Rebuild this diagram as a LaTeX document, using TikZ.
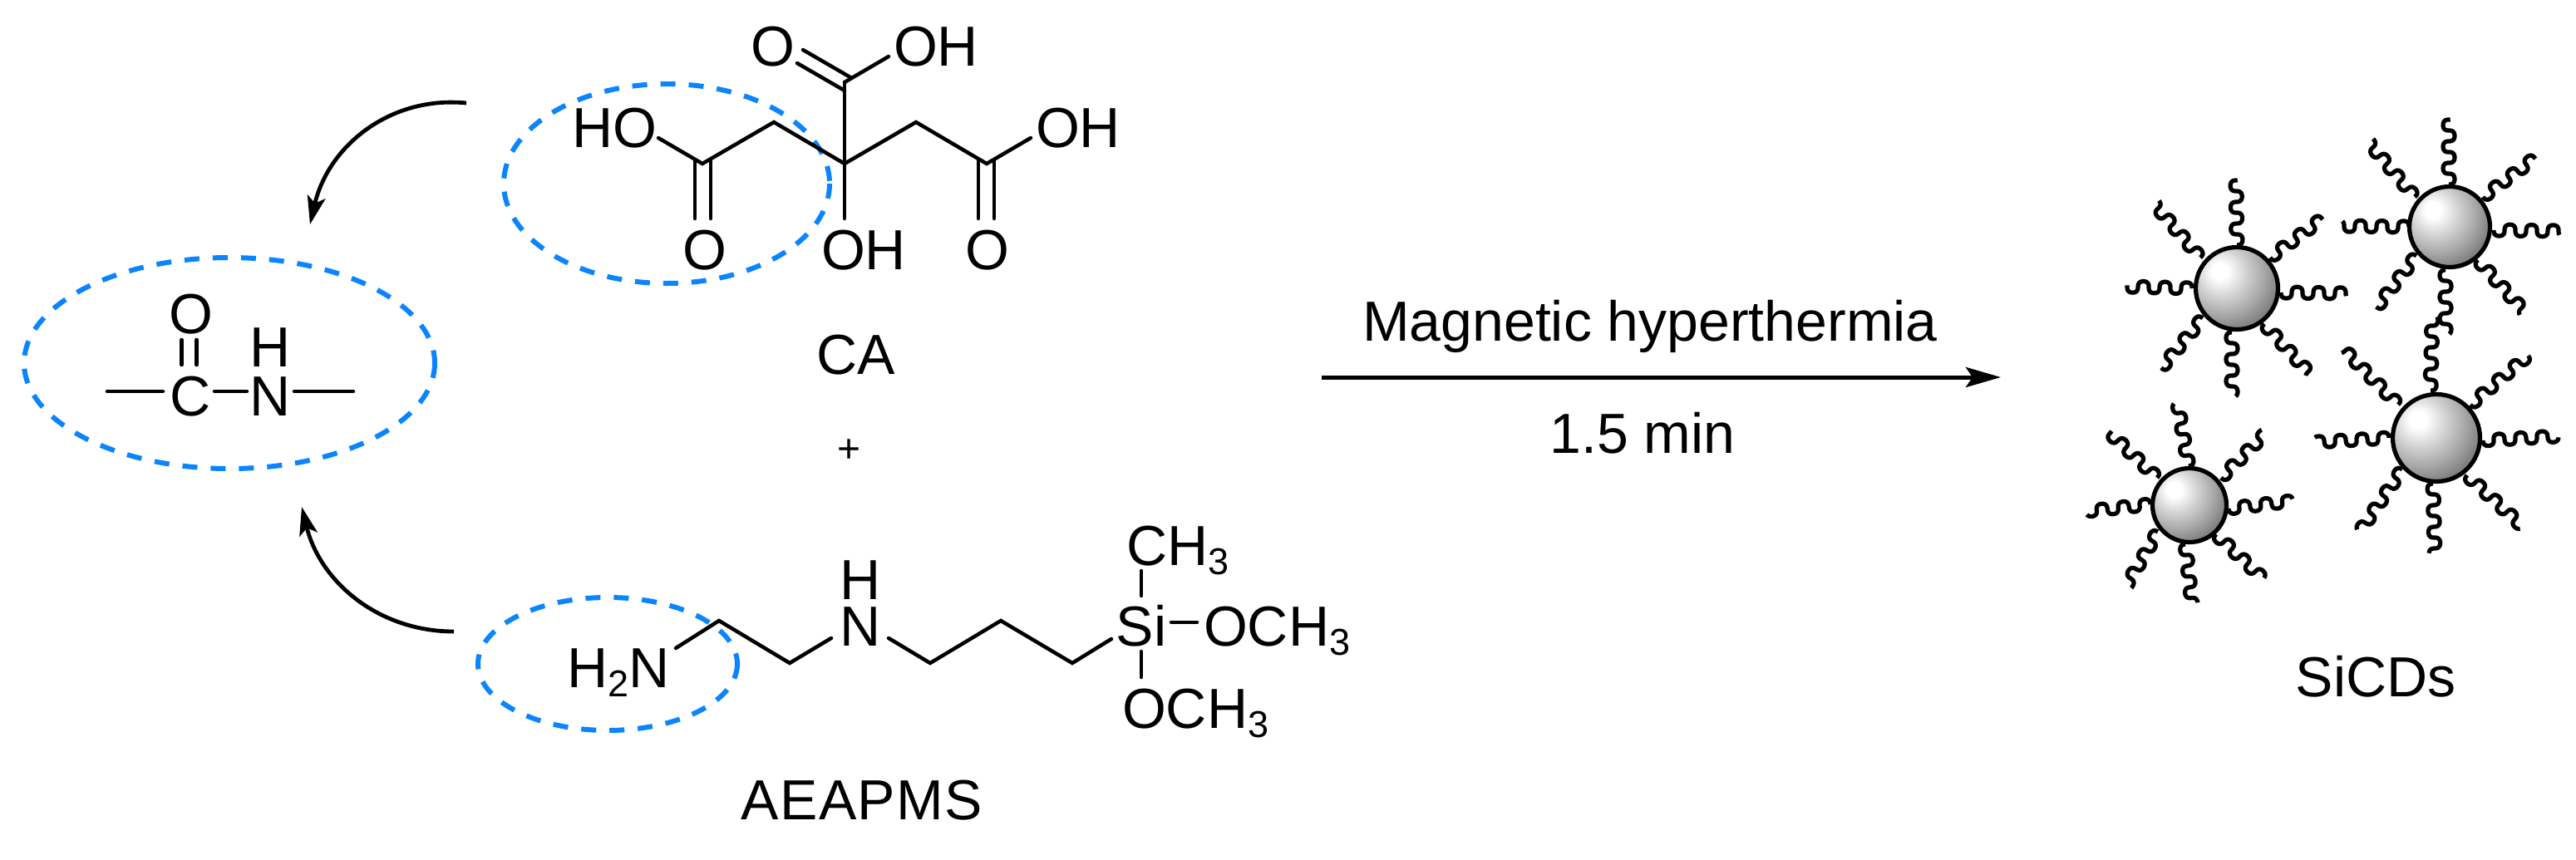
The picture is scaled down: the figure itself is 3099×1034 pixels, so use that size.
\documentclass[tikz,border=0pt]{standalone}
\usepackage{fontspec}
\setmainfont{Liberation Sans}
\usetikzlibrary{arrows.meta}
\definecolor{ringblue}{RGB}{10,132,255}
\newcommand{\subdigit}[1]{\raisebox{-5.5pt}{\fontsize{22.5}{24}\selectfont #1}}
\pgfdeclareradialshading{ballshade}{\pgfpoint{-11bp}{11bp}}{%
 color(0bp)=(white); color(5bp)=(white); color(15bp)=(black!18); color(25bp)=(black!35); color(33bp)=(black!50); color(37bp)=(black!62); color(42bp)=(black!75); color(50bp)=(black!82); color(100bp)=(black!85)}
\tikzset{
 atom/.style={inner sep=0pt,outer sep=0pt,anchor=base,font=\fontsize{34}{36}\selectfont},
 atomw/.style={atom,anchor=base west},
 bond/.style={draw=black,line width=2.25pt,line cap=round,line join=miter},
 ring/.style={draw=ringblue,line width=3pt,dash pattern=on 9pt off 8pt},
 curvearrow/.style={draw=black,line width=2.4pt,-{Stealth[length=17pt,width=11pt,inset=4pt]}},
 mainarrow/.style={draw=black,line width=2.5pt,-{Stealth[length=21pt,width=12pt,inset=4pt]}},
 ligand/.style={draw=black,line width=2.6pt,line join=round},
 ball/.style={shading=ballshade,draw=black,line width=2.6pt},
}
\begin{document}
\begin{tikzpicture}[x=0.5pt,y=-0.5pt]
\useasboundingbox (0,0) rectangle (3099,1034);
\fill[white] (0,0) rectangle (3099,1034);

% ---- rings
\draw[ring] (276,437) ellipse [x radius=247,y radius=127];
\draw[ring] (802,221) ellipse [x radius=196,y radius=120];
\draw[ring] (731,799) ellipse [x radius=156,y radius=80];

% ---- citric acid
\foreach \n/\x/\y in {cc/1016/197,cl/931/147,cr/1102/147,ccl/845/197,ccr/1187/197,
  ohl/792/166,ohr/1240/166,ob/1016/263,tc/1016/99,toh/1069/68,
  ta1/959/76,ta2/1016/109,tb1/966/60,tb2/1023/93,
  la1/836/193,la2/836/263,lb1/855/193,lb2/855/263,
  ra1/1177/193,ra2/1177/263,rb1/1196/193,rb2/1196/263}
  \coordinate (\n) at (\x,\y);
\draw[bond] (tc) -- (cc) -- (ob);
\draw[bond] (ohl) -- (ccl) -- (cl) -- (cc) -- (cr) -- (ccr) -- (ohr);
\draw[bond] (tc) -- (toh);
\draw[bond] (ta1) -- (ta2);
\draw[bond] (tb1) -- (tb2);
\draw[bond] (la1) -- (la2);
\draw[bond] (lb1) -- (lb2);
\draw[bond] (ra1) -- (ra2);
\draw[bond] (rb1) -- (rb2);
\node[atom] (o1) at (930,79) {O};
\node[atom] (oh1) at (1126,79) {OH};
\node[atom] (ho2) at (739,177) {HO};
\node[atom] (oh3) at (1297,177) {OH};
\node[atom] (o2) at (848,324) {O};
\node[atom] (oh4) at (1039,324) {OH};
\node[atom] (o3) at (1188,324) {O};
\node[atom] (ca) at (1030,450) {CA};

\node[atom,font=\fontsize{24}{26}\selectfont,anchor=center] (plus) at (1022,543) {+};

% ---- amide
\foreach \n/\x/\y in {a1/129/471,a2/196/471,a3/258/471,a4/297/471,a5/354/471,a6/425/471,
  d1/218.5/409,d2/218.5/439,d3/236.5/409,d4/236.5/439}
  \coordinate (\n) at (\x,\y);
\draw[bond] (a1) -- (a2);
\draw[bond] (a3) -- (a4);
\draw[bond] (a5) -- (a6);
\draw[bond] (d1) -- (d2);
\draw[bond] (d3) -- (d4);
\node[atom] (amO) at (230,401) {O};
\node[atom] (amC) at (229,500) {C};
\node[atom] (amH) at (325,441) {H};
\node[atom] (amN) at (325,500) {N};

% ---- curved arrows
\coordinate (ar1s) at (561,124);
\coordinate (ar1e) at (373,270);
\coordinate (ar2s) at (546,760);
\coordinate (ar2e) at (363,610);
\draw[curvearrow] (ar1s) .. controls (470,115) and (395,175) .. (ar1e);
\draw[curvearrow] (ar2s) .. controls (455,760) and (385,700) .. (ar2e);

% ---- AEAPMS
\foreach \n/\x/\y in {b1/813/780,b2/865/747,b3/950/798,b4/1000/768,b5/1069/768,b6/1119/798,
  b7/1204/747,b8/1290/798,b9/1337/769,s1/1373/687,s2/1373/717,s3/1373/784,s4/1373/815,s5/1409/749,s6/1440/749}
  \coordinate (\n) at (\x,\y);
\draw[bond] (b1) -- (b2) -- (b3) -- (b4);
\draw[bond] (b5) -- (b6) -- (b7) -- (b8) -- (b9);
\draw[bond] (s1) -- (s2);
\draw[bond] (s3) -- (s4);
\draw[bond] (s5) -- (s6);
\node[atomw] (h2n) at (682,827) {H\subdigit{2}N};
\node[atom] (nh) at (1035,721) {H};
\node[atom] (n) at (1035,777) {N};
\node[atom] (si) at (1373,777) {Si};
\node[atomw] (ch3) at (1355,680) {CH\subdigit{3}};
\node[atomw] (och3a) at (1448,777) {OCH\subdigit{3}};
\node[atomw] (och3b) at (1350,876) {OCH\subdigit{3}};
\node[atom] (aeapms) at (1037,986) {\addfontfeature{LetterSpace=2}AEAPMS};

% ---- reaction arrow
\coordinate (ms) at (1590,454);
\coordinate (me) at (2407,454);
\draw[mainarrow] (ms) -- (me);
\node[atom] (mh) at (1985,410) {Magnetic hyperthermia};
\node[atom] (tm) at (1976,545) {1.5 min};

% ---- particles: ligands, wavy lines from sphere outwards
\foreach \i/\xa/\ya/\xb/\yb in {
 1/2691/295/2690/216, 2/2731/310/2794/263, 3/2744/352/2824/353, 4/2724/390/2779/450,
 5/2685/400/2685/475, 6/2650/383/2600/443, 7/2637/347/2558/345, 8/2647/310/2592/246,
 9/2946/222/2946/143, 10/2987/237/3050/190, 11/3000/277/3081/278, 12/2981/313/3037/375,
 13/2942/325/2942/400, 14/2907/308/2859/370, 15/2898/273/2816/272, 16/2905/237/2850/172,
 17/2924/470/2926/383, 18/2972/487/3041/428, 19/2987/530/3077/525, 20/2968/572/3033/632,
 21/2927/582/2929/666, 22/2890/565/2840/638, 23/2874/527/2787/532, 24/2885/487/2819/420,
 25/2633/561/2620/487, 26/2672/575/2724/523, 27/2681/612/2757/603, 28/2666/643/2722/696,
 29/2629/655/2637/726, 30/2596/640/2559/703, 31/2587/607/2512/615, 32/2595/575/2537/520}
{
 \coordinate (l\i a) at (\xa,\ya);
 \coordinate (l\i b) at (\xb,\yb);
 \pgfmathsetmacro{\dx}{\xb-\xa}
 \pgfmathsetmacro{\dy}{\yb-\ya}
 \pgfmathsetmacro{\len}{veclen(\dx,\dy)}
 \pgfmathsetmacro{\ux}{\dx/\len}
 \pgfmathsetmacro{\uy}{\dy/\len}
 \begin{scope}[shift={(l\i a)}]
 \draw[ligand] plot[domain=0:\len,samples=70,smooth,variable=\s]
   ({\ux*(\s-2*sin(27.69*\s)) - \uy*7*sin(13.85*\s)},
    {\uy*(\s-2*sin(27.69*\s)) + \ux*7*sin(13.85*\s)});
 \end{scope}
}
% ---- particles: spheres
\path[ball] (2691,347) circle [radius=49.5];
\path[ball] (2947,273) circle [radius=48.5];
\path[ball] (2931,527) circle [radius=52.5];
\path[ball] (2634,608) circle [radius=44.5];
\node[atom] (sicds) at (2858,838) {SiCDs};
\end{tikzpicture}
\end{document}
